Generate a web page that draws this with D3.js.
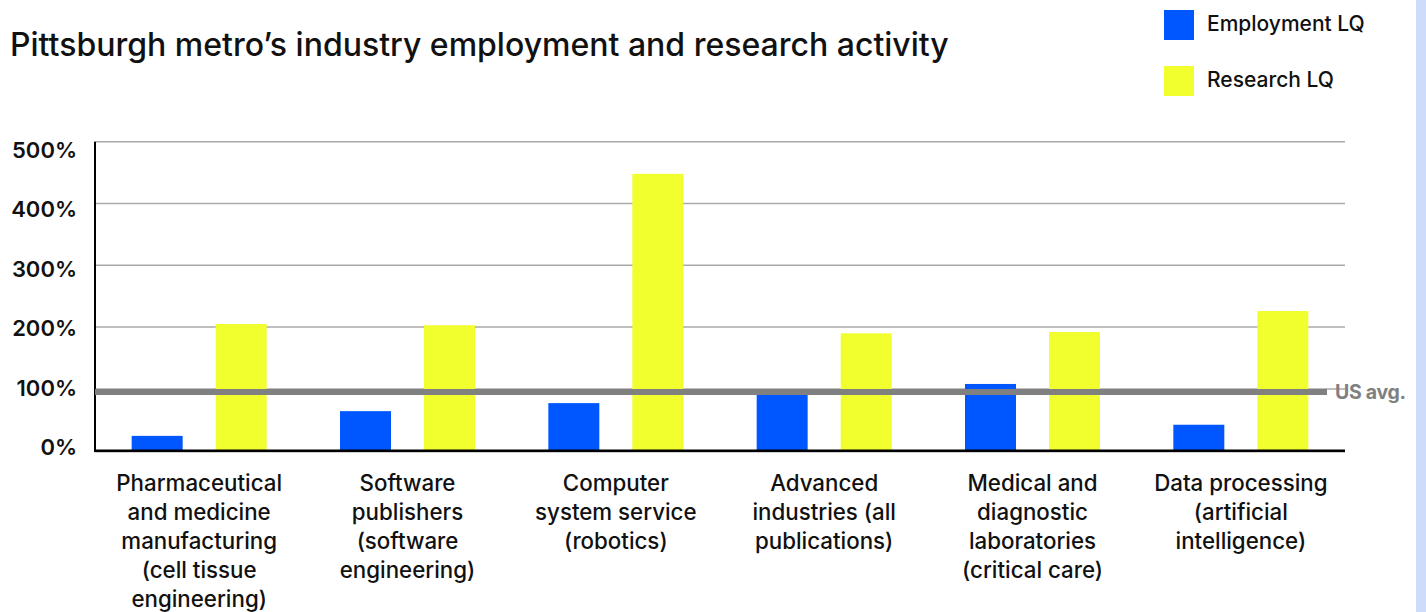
<!DOCTYPE html>
<html>
<head>
<meta charset="utf-8">
<script src="https://cdn.jsdelivr.net/npm/d3@7"></script>
<style>
  html, body { margin: 0; padding: 0; background: #fff; }
  svg { display: block; font-family: Inter, "Open Sans", sans-serif; }
</style>
</head>
<body>
<svg id="chart" width="1426" height="612"></svg>
<script>
const categories = [
  ["Pharmaceutical", "and medicine", "manufacturing", "(cell tissue", "engineering)"],
  ["Software", "publishers", "(software", "engineering)"],
  ["Computer", "system service", "(robotics)"],
  ["Advanced", "industries (all", "publications)"],
  ["Medical and", "diagnostic", "laboratories", "(critical care)"],
  ["Data processing", "(artificial", "intelligence)"]
];
const seriesNames = ["Employment LQ", "Research LQ"];
const employmentLQ = [24, 64, 77, 93, 108, 42];
const researchLQ = [205, 203, 448, 190, 192, 226];
const usAvg = 95;
const yTicks = [0, 100, 200, 300, 400, 500];
const colors = ["#0057ff", "#f2ff2e"];

const svg = d3.select("#chart");
const W = 1426, H = 612;

// right edge strip
svg.append("rect").attr("x", 1416).attr("y", 0).attr("width", 10).attr("height", H).attr("fill", "#cddcfb");

const pLeft = 95, pRight = 1345, pTop = 141.7, pBottom = 450.7;
const catIdx = d3.range(categories.length);
const x0 = d3.scaleBand().domain(catIdx).range([pLeft, pRight]).paddingInner(0.352).paddingOuter(0.176);
const x1 = d3.scaleBand().domain(seriesNames).range([0, x0.bandwidth()]).paddingInner(0.393).paddingOuter(0);
const y = d3.scaleLinear().domain([0, 500]).range([pBottom, pTop]);
// tick labels in the reference sit on a slightly compressed ladder
const yLabel = d3.scaleLinear().domain([0, 500]).range([447.5, 150]);

// title
svg.append("text").attr("x", 10).attr("y", 56)
  .attr("font-size", 32).attr("font-weight", 500).attr("fill", "#111")
  .text("Pittsburgh metro\u2019s industry employment and research activity");

// legend
const legend = svg.append("g");
seriesNames.forEach((s, i) => {
  legend.append("rect").attr("x", 1164).attr("y", 10 + i * 56).attr("width", 30).attr("height", 30).attr("fill", colors[i]);
  legend.append("text").attr("x", 1207).attr("y", 24 + i * 56).attr("dy", "0.35em")
    .attr("font-size", 21).attr("font-weight", 500).attr("fill", "#111").text(s);
});

// gridlines
svg.append("g").selectAll("line").data(yTicks.filter(t => t > 0)).join("line")
  .attr("x1", pLeft).attr("x2", pRight).attr("y1", d => y(d)).attr("y2", d => y(d))
  .attr("stroke", "#aaaaaa").attr("stroke-width", 1.5);

// y axis labels
const yAxis = d3.axisLeft(yLabel).tickValues(yTicks).tickFormat(d => d + "%").tickSize(0).tickPadding(18);
const yg = svg.append("g").attr("transform", `translate(${pLeft},0)`).call(yAxis);
yg.select(".domain").remove();
yg.selectAll("text").attr("font-size", 22).attr("font-weight", 600).attr("fill", "#111")
  .attr("font-family", "Inter, sans-serif");

// bars
const groups = svg.append("g").selectAll("g").data(catIdx).join("g")
  .attr("transform", i => `translate(${x0(i)},0)`);
groups.selectAll("rect").data(i => [
  {s: seriesNames[0], v: employmentLQ[i], c: colors[0]},
  {s: seriesNames[1], v: researchLQ[i], c: colors[1]}
]).join("rect")
  .attr("x", d => x1(d.s)).attr("width", x1.bandwidth())
  .attr("y", d => y(d.v)).attr("height", d => y(0) - y(d.v))
  .attr("fill", d => d.c);

// axes lines
svg.append("line").attr("x1", pLeft).attr("x2", pRight).attr("y1", pBottom + 1.5).attr("y2", pBottom + 1.5)
  .attr("stroke", "#bbb").attr("stroke-width", 1);
svg.append("line").attr("x1", pLeft - 1).attr("x2", pRight).attr("y1", pBottom).attr("y2", pBottom)
  .attr("stroke", "#000").attr("stroke-width", 2.5);
svg.append("line").attr("x1", pLeft).attr("x2", pLeft).attr("y1", pTop).attr("y2", pBottom)
  .attr("stroke", "#000").attr("stroke-width", 2);

// US avg line
svg.append("line").attr("x1", pLeft).attr("x2", 1327).attr("y1", y(usAvg)).attr("y2", y(usAvg))
  .attr("stroke", "#808080").attr("stroke-width", 6);
svg.append("text").attr("x", 1335).attr("y", y(usAvg)).attr("dy", "0.35em")
  .attr("font-size", 19.5).attr("font-weight", 700).attr("fill", "#808080").attr("letter-spacing", "-0.3")
  .text("US avg.");

// category labels
const xAxis = svg.append("g");
catIdx.forEach(i => {
  const cx = x0(i) + x0.bandwidth() / 2;
  const t = xAxis.append("text").attr("x", cx).attr("y", 491)
    .attr("text-anchor", "middle").attr("font-size", 22.3).attr("font-weight", 500).attr("fill", "#111");
  categories[i].forEach((line, j) => {
    t.append("tspan").attr("x", cx).attr("dy", j === 0 ? 0 : 29).text(line);
  });
});
</script>
</body>
</html>
